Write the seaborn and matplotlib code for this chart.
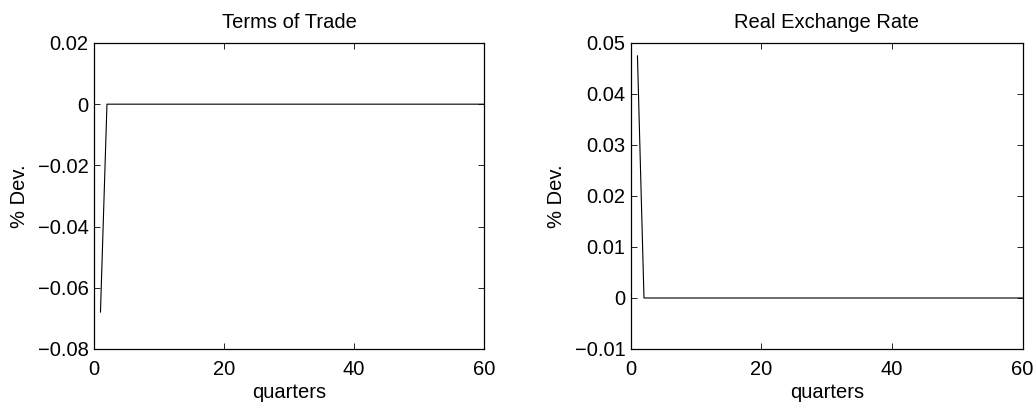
import matplotlib.pyplot as plt
import numpy as np
import pandas as pd
import seaborn as sns

# impulse responses, quarters 1..60
quarters = np.arange(1, 61)
tot_values = [-0.068] + [0.0] * 59
rer_values = [0.0475] + [0.0] * 59

sns.set_theme(style="white")
plt.rcParams["font.family"] = ["Liberation Sans", "DejaVu Sans"]
plt.rcParams["text.color"] = "black"
plt.rcParams["axes.labelcolor"] = "black"
FS = 14.5

fig = plt.figure(figsize=(10.36, 4.05), dpi=100)
ax1 = fig.add_axes([0.0907, 0.1383, 0.3764, 0.7556])
ax2 = fig.add_axes([0.609, 0.1383, 0.378, 0.7556])

panels = [
    (ax1, tot_values, "Terms of Trade", (-0.08, 0.02), np.arange(-0.08, 0.021, 0.02)),
    (ax2, rer_values, "Real Exchange Rate", (-0.01, 0.05), np.arange(-0.01, 0.051, 0.01)),
]

for ax, values, title, ylim, yticks in panels:
    df = pd.DataFrame({"quarter": quarters, "dev": values})
    sns.lineplot(data=df, x="quarter", y="dev", ax=ax, color="black", lw=0.8)
    ax.set_xlim(0, 60)
    ax.set_ylim(*ylim)
    ax.set_xticks([0, 20, 40, 60])
    ax.set_yticks(yticks)
    labels = []
    for t in yticks:
        t = round(t, 3)
        if t == 0:
            labels.append("0")
        else:
            labels.append(f"{t:g}".replace("-", "\u2212"))
    ax.set_yticklabels(labels)
    ax.tick_params(direction="in", length=4, width=0.6, labelsize=FS, colors="black",
                   top=True, right=True, bottom=True, left=True)
    ax.tick_params(axis="x", pad=8)
    ax.tick_params(axis="y", pad=4)
    for spine in ax.spines.values():
        spine.set_visible(True)
        spine.set_color("black")
        spine.set_linewidth(0.9)
    ax.set_title(title, fontsize=FS, pad=11, color="black")
    ax.set_xlabel("quarters", fontsize=FS, labelpad=3, color="black")
    ax.set_ylabel("% Dev.", fontsize=FS, labelpad=6, color="black")

fig.savefig("out.png", dpi=100)
